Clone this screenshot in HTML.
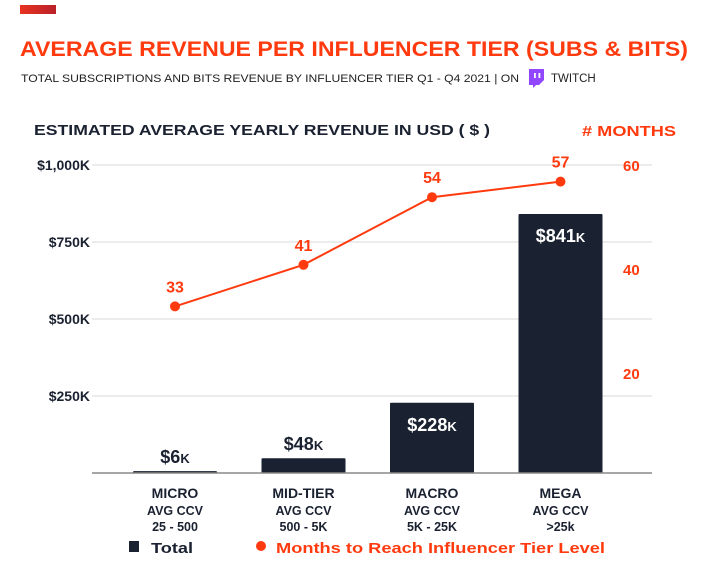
<!DOCTYPE html>
<html><head><meta charset="utf-8"><style>
body{margin:0;background:#fff;width:724px;height:564px;overflow:hidden;font-family:"Liberation Sans",sans-serif}
</style></head><body>
<svg width="724" height="564" xmlns="http://www.w3.org/2000/svg">
<defs><linearGradient id="g" x1="0" x2="1"><stop offset="0" stop-color="#e8321f"/><stop offset="1" stop-color="#b9222a"/></linearGradient></defs>
<rect x="20" y="5" width="36" height="9" fill="url(#g)"/>
<text x="20" y="56" font-size="21" font-weight="bold" fill="#ff3a0f" textLength="668" lengthAdjust="spacingAndGlyphs">AVERAGE REVENUE PER INFLUENCER TIER (SUBS &amp; BITS)</text>
<text x="21" y="82" font-size="11" fill="#222" textLength="498" lengthAdjust="spacingAndGlyphs">TOTAL SUBSCRIPTIONS AND BITS REVENUE BY INFLUENCER TIER Q1 - Q4 2021 | ON</text>
<g><path d="M529 69h15v11l-5 5h-3l-3 3v-3h-4z" fill="#9146ff"/><rect x="534" y="73" width="1.8" height="5" fill="#fff"/><rect x="538.5" y="73" width="1.8" height="5" fill="#fff"/></g>
<text x="551" y="82" font-size="11.5" fill="#222">TWITCH</text>
<text x="34" y="135" font-size="15" font-weight="bold" fill="#1a2130" textLength="456" lengthAdjust="spacingAndGlyphs">ESTIMATED AVERAGE YEARLY REVENUE IN USD ( $ )</text>
<text x="582" y="136" font-size="15" font-weight="bold" fill="#ff3a0f" textLength="94" lengthAdjust="spacingAndGlyphs"># MONTHS</text>
<g id="plot"></g>
<g>
<rect x="129" y="541" width="10" height="11" fill="#1a2130"/>
<text x="151" y="553" font-size="15" font-weight="bold" fill="#1a2130" textLength="42" lengthAdjust="spacingAndGlyphs">Total</text>
<circle cx="261" cy="546" r="5" fill="#ff3a0f"/>
<text x="276" y="553" font-size="15" font-weight="bold" fill="#ff3a0f" textLength="329" lengthAdjust="spacingAndGlyphs">Months to Reach Influencer Tier Level</text>
</g>
</svg>
<script>
const categories=["MICRO","MID-TIER","MACRO","MEGA"];
const sublabels1=["AVG CCV","AVG CCV","AVG CCV","AVG CCV"];
const sublabels2=["25 - 500","500 - 5K","5K - 25K",">25k"];
const revenue=[6,48,228,841];
const months=[33,41,54,57];
const leftTicks=[250,500,750,1000];
const leftTickLabels=["$250K","$500K","$750K","$1,000K"];
const rightTicks=[20,40,60];
const NS="http://www.w3.org/2000/svg";
const g=document.getElementById('plot');
const yL=v=>473-v*0.308;
const yR=v=>478-v*5.2;
const xC=i=>175+i*128.5;
function el(t,a,txt){const e=document.createElementNS(NS,t);for(const k in a)e.setAttribute(k,a[k]);if(txt!=null)e.textContent=txt;g.appendChild(e);return e;}
leftTicks.forEach((t,i)=>{
 let l=el('line',{x1:92,x2:652,y1:yL(t),y2:yL(t),stroke:'#d8d8d8','stroke-width':1});
 
 
 let tx=el('text',{x:90,y:yL(t)+5,'text-anchor':'end','font-size':14,'font-weight':'bold',fill:'#1a2130'},leftTickLabels[i]);
 
 
});
rightTicks.forEach(t=>{
 let tx=el('text',{x:623,y:yR(t)+5,'font-size':15,'font-weight':'bold',fill:'#ff3a0f'},String(t));
 
 
});
revenue.forEach((v,i)=>{
 const x=xC(i)-42,y=yL(v);
 let r=el('rect',{x:x,y:y,width:84,height:473-y,fill:'#1a2130',rx:1});
 
 
 const inside=v>150;
 let t=el('text',{x:xC(i),y:inside?y+28:y-8,'text-anchor':'middle','font-size':18,'font-weight':'bold',fill:inside?'#fff':'#1a2130'});
 t.innerHTML='$'+v+'<tspan font-size="13">K</tspan>';
 
 
 [[categories[i],498],[sublabels1[i],515],[sublabels2[i],531]].forEach(([s,yy],j)=>{
  let c=el('text',{x:xC(i),y:yy,'text-anchor':'middle','font-size':j==0?14:12.5,'font-weight':'bold',fill:'#1a2130'},s);
  
  
 });
});
let base=el('line',{x1:92,x2:652,y1:473,y2:473,stroke:'#888','stroke-width':1.5});


let pl=el('polyline',{points:months.map((m,i)=>xC(i)+','+yR(m)).join(' '),fill:'none',stroke:'#ff3a0f','stroke-width':2});


months.forEach((m,i)=>{
 let c=el('circle',{cx:xC(i),cy:yR(m),r:5,fill:'#ff3a0f'});
 
 
 let t=el('text',{x:xC(i),y:yR(m)-14,'text-anchor':'middle','font-size':16,'font-weight':'bold',fill:'#ff3a0f'},String(m));
 
 
});
</script>
</body></html>
